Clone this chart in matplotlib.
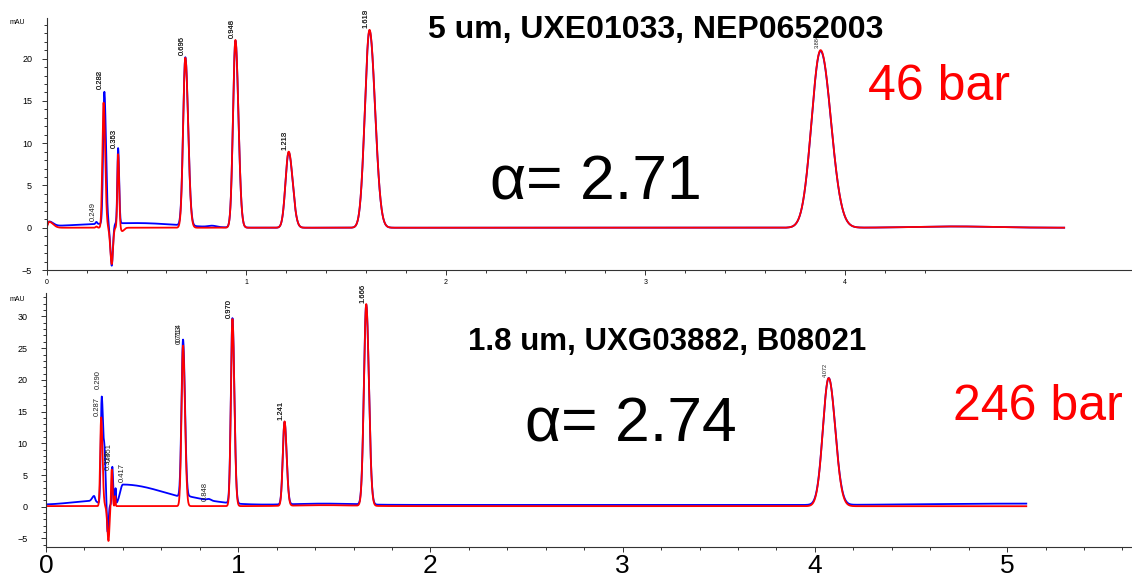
import numpy as np
import matplotlib
matplotlib.use('Agg')
import matplotlib.pyplot as plt
from matplotlib.ticker import MultipleLocator, FixedLocator

plt.rcParams['font.family'] = ['Liberation Sans', 'DejaVu Sans']

# peak tables: centre (min), height (mAU), sigma left, sigma right
top_blue = [
    (0.012, 0.55, 0.006, 0.02),
    (0.45, 0.55, 0.30, 0.20),
    (0.249, 0.25, 0.004, 0.004),
    (0.289, 15.6, 0.006, 0.008),
    (0.326, -5.0, 0.007, 0.006),
    (0.358, 8.9, 0.004, 0.005),
    (0.695, 19.9, 0.011, 0.014),
    (0.83, 0.15, 0.02, 0.02),
    (0.946, 22.1, 0.012, 0.015),
    (1.213, 8.9, 0.016, 0.020),
    (1.618, 23.3, 0.023, 0.028),
    (3.879, 20.9, 0.045, 0.052),
    (4.55, 0.15, 0.2, 0.2),
]
top_red = [
    (0.012, 0.7, 0.006, 0.02),
    (0.249, 0.15, 0.004, 0.004),
    (0.285, 14.8, 0.006, 0.008),
    (0.326, -4.3, 0.007, 0.006),
    (0.358, 8.7, 0.004, 0.005),
    (0.378, -0.4, 0.006, 0.01),
    (0.695, 20.1, 0.011, 0.014),
    (0.946, 22.2, 0.012, 0.015),
    (1.213, 9.0, 0.016, 0.020),
    (1.618, 23.4, 0.023, 0.028),
    (3.879, 21.0, 0.045, 0.052),
    (4.55, 0.15, 0.2, 0.2),
]
bot_blue = [
    (0.0, 0.3, 1.0, 8.0),
    (0.25, 0.6, 0.12, 0.02),
    (0.25, 0.8, 0.01, 0.005),
    (0.290, 17.0, 0.005, 0.008),
    (0.305, 6.0, 0.004, 0.006),
    (0.320, -4.5, 0.004, 0.005),
    (0.345, 6.0, 0.003, 0.004),
    (0.362, 2.5, 0.002, 0.002),
    (0.40, 3.2, 0.015, 0.22),
    (0.713, 24.9, 0.008, 0.010),
    (0.75, 0.4, 0.01, 0.15),
    (0.848, 0.2, 0.01, 0.01),
    (0.970, 29.2, 0.008, 0.010),
    (1.241, 13.0, 0.009, 0.011),
    (1.45, 0.2, 0.15, 0.15),
    (1.666, 31.5, 0.012, 0.014),
    (4.072, 20.0, 0.030, 0.034),
    (5.1, 0.25, 0.5, 0.1),
]
bot_red = [
    (0.0, 0.1, 1.0, 8.0),
    (0.287, 14.0, 0.005, 0.007),
    (0.325, -5.5, 0.006, 0.005),
    (0.342, 5.8, 0.003, 0.004),
    (0.360, 1.6, 0.002, 0.002),
    (0.713, 25.3, 0.008, 0.010),
    (0.970, 29.5, 0.008, 0.010),
    (1.241, 13.3, 0.009, 0.011),
    (1.45, 0.15, 0.15, 0.15),
    (1.666, 31.8, 0.012, 0.014),
    (4.072, 20.2, 0.030, 0.034),
]

# retention-time labels: text, time, height (pairs from the two runs overlap)
top_labels = [("0.249", 0.249, 0.6), ("0.282", 0.288, 16.1), ("0.288", 0.288, 16.1),
              ("0.353", 0.358, 9.2), ("0.363", 0.358, 9.2),
              ("0.695", 0.695, 20.2), ("0.696", 0.695, 20.2),
              ("0.946", 0.946, 22.2), ("0.948", 0.946, 22.2),
              ("1.213", 1.213, 9.0), ("1.218", 1.213, 9.0),
              ("1.618", 1.618, 23.4), ("1.619", 1.618, 23.4)]
top_small = [("3.884", 3.879, 21.0)]
bot_labels = [("0.287", 0.287, 14.0), ("0.290", 0.292, 18.3),
              ("0.338", 0.342, 5.4), ("0.351", 0.347, 6.8), ("0.417", 0.417, 3.5),
              ("0.848", 0.848, 0.6), ("0.713", 0.713, 25.3), ("0.714", 0.713, 25.6),
              ("0.970", 0.970, 29.5), ("0.970", 0.970, 29.5),
              ("1.241", 1.241, 13.3), ("1.241", 1.241, 13.3),
              ("1.666", 1.666, 31.8), ("1.666", 1.666, 31.8)]
bot_small = [("4.072", 4.072, 20.2)]


def trace(t, table):
    y = np.zeros_like(t)
    for c, h, sl, sr in table:
        s = np.where(t < c, sl, sr)
        y += h * np.exp(-0.5 * ((t - c) / s) ** 2)
    return y


t = np.linspace(0, 5.1, 6001)

W, H = 1132, 578
fig = plt.figure(figsize=(W / 100, H / 100), dpi=100)

ax1 = fig.add_axes([46.7 / W, 1 - 270 / H, 1 - 46.7 / W, 252 / H])
ax2 = fig.add_axes([46.0 / W, 1 - 546.7 / H, 1 - 46.0 / W, 253.7 / H])

for ax, blue, red in [(ax1, top_blue, top_red), (ax2, bot_blue, bot_red)]:
    ax.plot(t, trace(t, blue), color='#0000ff', lw=1.3)
    ax.plot(t, trace(t, red), color='#ff0000', lw=1.3)
    for s in ['top', 'right']:
        ax.spines[s].set_visible(False)
    for s in ['left', 'bottom']:
        ax.spines[s].set_color('#333333')
        ax.spines[s].set_linewidth(0.8)
    ax.tick_params(which='both', direction='out', color='#333333', width=0.7)
    ax.tick_params(which='major', length=3.5)
    ax.tick_params(which='minor', length=2)
    ax.yaxis.set_minor_locator(MultipleLocator(1))

ax1.set_xlim(0, 5.44)
ax1.set_ylim(-5, 24.8)
ax1.xaxis.set_major_locator(FixedLocator([0, 1, 2, 3, 4]))
ax1.xaxis.set_minor_locator(FixedLocator(np.arange(0, 4.41, 0.2)))
ax1.yaxis.set_major_locator(MultipleLocator(5))
ax1.tick_params(axis='x', labelsize=5, pad=3)
ax1.tick_params(axis='y', labelsize=6.5, pad=7)

ax2.set_xlim(0, 5.65)
ax2.set_ylim(-6.3, 33.7)
ax2.xaxis.set_major_locator(MultipleLocator(1))
ax2.xaxis.set_minor_locator(MultipleLocator(0.2))
ax2.yaxis.set_major_locator(MultipleLocator(5))
ax2.tick_params(axis='x', labelsize=19, pad=2)
ax2.tick_params(axis='y', labelsize=6.5, pad=10)

for ax, labels, size in [(ax1, top_labels, 5.5), (ax1, top_small, 4),
                         (ax2, bot_labels, 5.5), (ax2, bot_small, 4)]:
    for txt, x, y in labels:
        ax.annotate(txt, (x, y), xytext=(-2.5, 1.5), textcoords='offset points',
                    rotation=90, ha='center', va='bottom', fontsize=size,
                    color='#222222', annotation_clip=False)

fig.text(10 / W, 1 - 24 / H, 'mAU', fontsize=5)
fig.text(10 / W, 1 - 301 / H, 'mAU', fontsize=5)

fig.text(428 / W, 1 - 38 / H, '5 um, UXE01033, NEP0652003', fontsize=23,
         fontweight='bold', va='baseline')
fig.text(468 / W, 1 - 350 / H, '1.8 um, UXG03882, B08021', fontsize=22.5,
         fontweight='bold', va='baseline')
fig.text(490 / W, 1 - 200 / H, 'α= 2.71', fontsize=45, va='baseline')
fig.text(525 / W, 1 - 442 / H, 'α= 2.74', fontsize=45, va='baseline')
fig.text(868 / W, 1 - 100 / H, '46 bar', fontsize=36, color='#ff0000', va='baseline')
fig.text(953 / W, 1 - 420 / H, '246 bar', fontsize=36, color='#ff0000', va='baseline')

fig.savefig('out.png', dpi=100)
